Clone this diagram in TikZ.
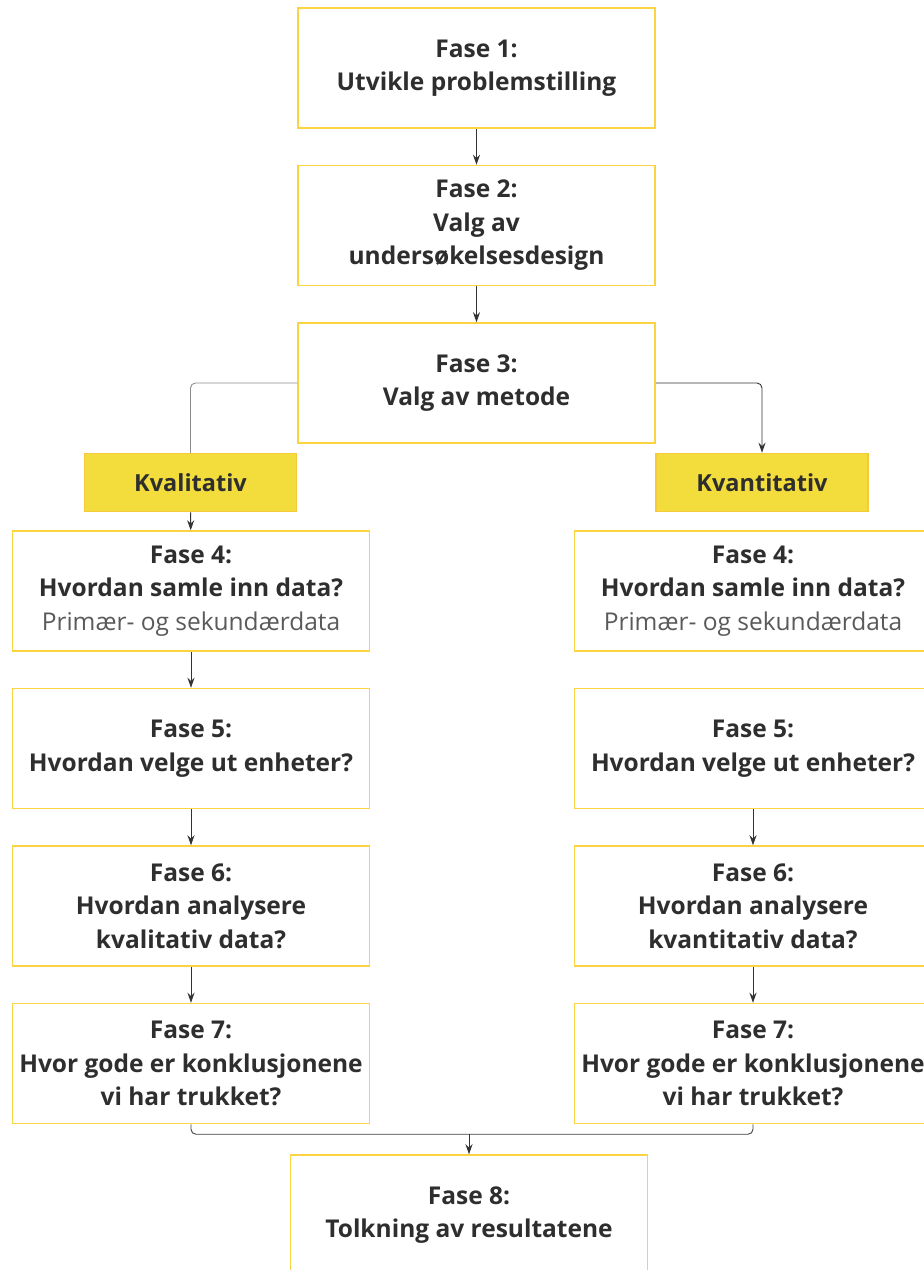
\documentclass[tikz,border=0pt]{standalone}
\usepackage{fontspec}
\setmainfont{Open Sans}
\usetikzlibrary{arrows.meta, positioning, calc}
\usepackage{xcolor}
\definecolor{boxline}{HTML}{FBD444}
\definecolor{tagfill}{HTML}{F2DD3D}
\definecolor{tagline}{HTML}{F5CB3C}
\definecolor{textdark}{HTML}{2E2E2E}
\definecolor{textsoft}{HTML}{5A5A5A}
\tikzset{
    fase/.style={rectangle, draw=boxline, line width=1.5pt, fill=white, minimum width=357pt, minimum height=120pt, align=center, text=textdark, font=\fontsize{24.5}{33.5}\selectfont\bfseries},
    tag/.style={rectangle, draw=tagline, line width=1.5pt, fill=tagfill, minimum width=212pt, minimum height=58pt, align=center, text=textdark, font=\fontsize{23.5}{26}\selectfont\bfseries},
    arrow/.style={line width=0.9pt, draw=black!80, -{Stealth[length=10pt,width=7pt]}},
    link/.style={line width=0.9pt, draw=black!75, rounded corners=5pt}
}
\newcommand{\sub}[1]{{\mdseries\color{textsoft}#1}}

\begin{document}
\begin{tikzpicture}[x=1pt, y=1pt, node distance=36pt]
    \useasboundingbox (0,0) rectangle (924,-1270);
    \node (f1) [fase] at (476.5,-68) {Fase 1:\\Utvikle problemstilling};
    \node (f2) [fase, below=of f1] {Fase 2:\\Valg av\\undersøkelsesdesign};
    \node (f3) [fase, below=of f2] {Fase 3:\\Valg av metode};
    \node (kval) [tag] at (190.5,-482.5) {Kvalitativ};
    \node (kvant) [tag] at (762,-482.5) {Kvantitativ};
    \node (l4) [fase] at (191,-591) {Fase 4:\\Hvordan samle inn data?\\\sub{Primær- og sekundærdata}};
    \node (l5) [fase, below=of l4] {Fase 5:\\Hvordan velge ut enheter?};
    \node (l6) [fase, below=of l5] {Fase 6:\\Hvordan analysere\\kvalitativ data?};
    \node (l7) [fase, below=of l6] {Fase 7:\\Hvor gode er konklusjonene\\vi har trukket?};
    \node (r4) [fase] at (753,-591) {Fase 4:\\Hvordan samle inn data?\\\sub{Primær- og sekundærdata}};
    \node (r5) [fase, below=of r4] {Fase 5:\\Hvordan velge ut enheter?};
    \node (r6) [fase, below=of r5] {Fase 6:\\Hvordan analysere\\kvantitativ data?};
    \node (r7) [fase, below=of r6] {Fase 7:\\Hvor gode er konklusjonene\\vi har trukket?};
    \node (f8) [fase] at (469,-1215) {Fase 8:\\Tolkning av resultatene};
    \coordinate [above=20pt of f8] (join);
    \draw [arrow] (f1) -- (f2);
    \draw [arrow] (f2) -- (f3);
    \draw [link, draw=black!45] (f3.west) -| (kval.north);
    \draw [link, arrow, rounded corners=5pt] (f3.east) -| (kvant.north);
    \draw [arrow] (kval) -- (l4);
    \draw [arrow] (l4) -- (l5);
    \draw [arrow] (l5) -- (l6);
    \draw [arrow] (l6) -- (l7);
    \draw [arrow] (r5) -- (r6);
    \draw [arrow] (r6) -- (r7);
    \draw [link] (l7.south) |- (join) -| (r7.south);
    \draw [arrow] (join) -- (f8);
\end{tikzpicture}
\end{document}
